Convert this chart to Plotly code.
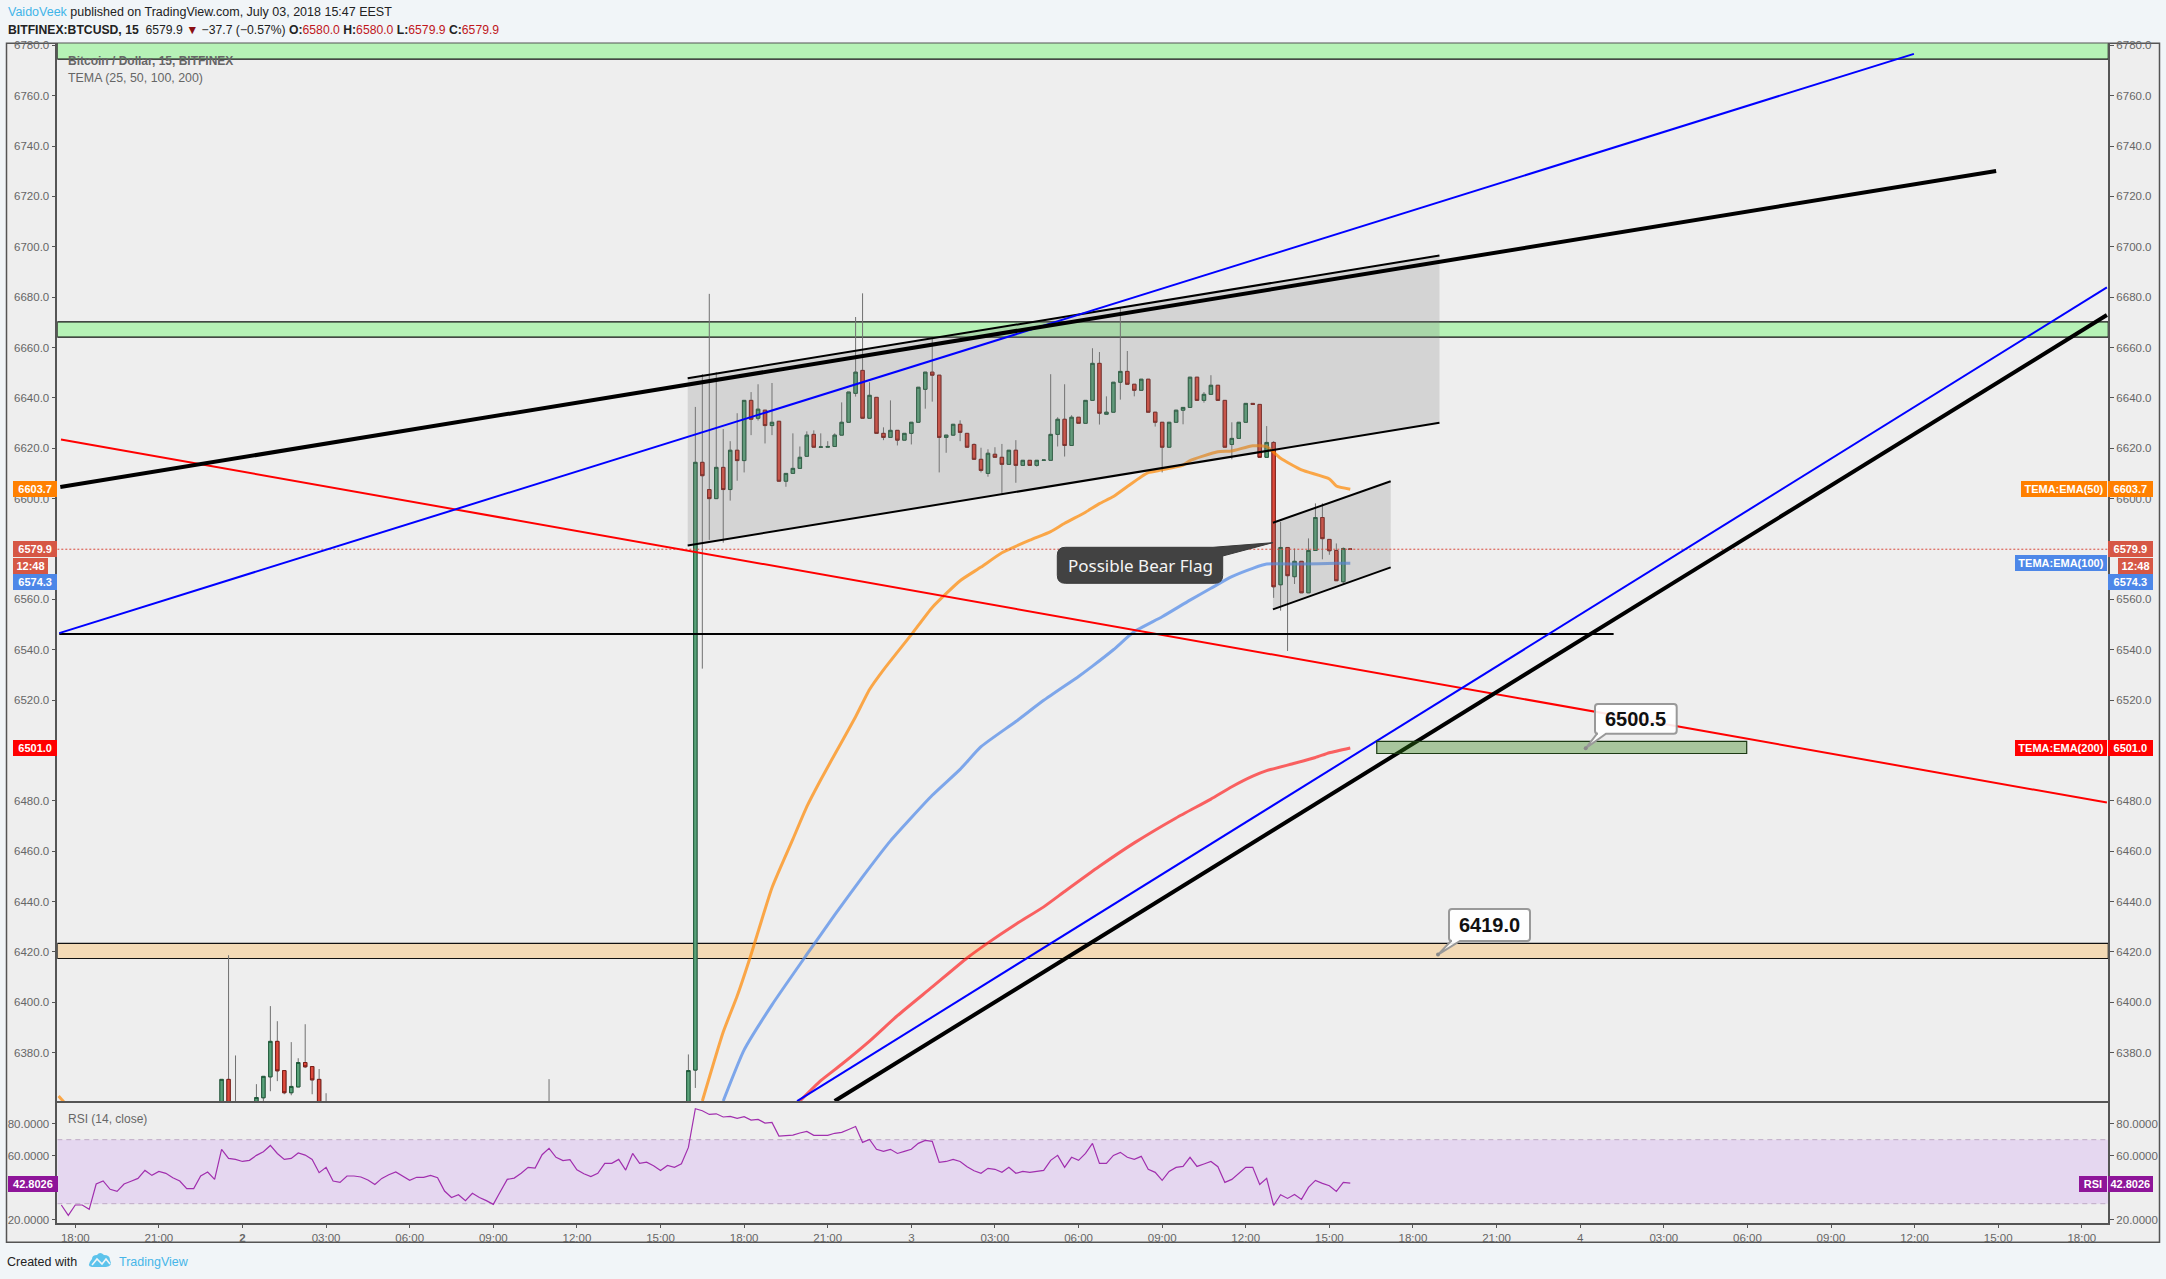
import pandas as pd
import plotly.graph_objects as go

W, H = 2166, 1279
L, R, T, MID, B = 57.3, 2108.3, 43.5, 1101.3, 1223.3
BASE = pd.Timestamp("2018-07-01 18:00")

# ---------- candles (bar number counted in 15 min steps from BASE) ----------
bar_index = [21, 22, 23, 26, 27, 28, 29, 30, 31, 32, 33, 34, 35, 36, 68, 88] + list(range(89, 184))
open_ = [6355, 6369.4, 6352, 6355, 6362.1, 6370.4, 6384.5, 6372.9, 6364.1, 6366.4, 6376.1, 6374.5, 6369.4, 6352, 6352, 6355,
 6373.1, 6614.4, 6603.6, 6600.0, 6612.4, 6603.6, 6619.2, 6615.1, 6639.0, 6631.9, 6635.1, 6629.0, 6630.7, 6606.9, 6610.0, 6612.0,
 6616.8, 6625.5, 6620.4, 6620.4, 6620.7, 6625.2, 6630.3, 6641.8, 6650.9, 6631.9, 6640.2, 6625.9, 6624.3, 6627.1, 6623.2, 6625.9,
 6630.3, 6643.4, 6650.2, 6649.0, 6624.3, 6625.2, 6629.5, 6625.9, 6621.5, 6615.6, 6610.0, 6617.6, 6616.4, 6613.6, 6619.2, 6613.2,
 6615.2, 6613.2, 6615.2, 6615.2, 6625.5, 6631.5, 6621.1, 6632.3, 6629.9, 6639.0, 6653.7, 6633.5, 6634.3, 6646.2, 6650.5, 6645.4,
 6643.0, 6647.4, 6634.3, 6630.3, 6620.4, 6630.3, 6635.1, 6636.2, 6648.2, 6639.0, 6641.4, 6645.0, 6639.0, 6621.5, 6623.9, 6630.3,
 6637.8, 6637.4, 6616.4, 6622.3, 6565.8, 6580.6, 6569.0, 6575.1, 6562.6, 6579.4, 6592.5, 6583.8, 6579.4, 6567.0, 6580.0]
high = [6369.4, 6418.7, 6378.9, 6367.5, 6370.6, 6398.5, 6392.5, 6372.9, 6384.2, 6377.8, 6391.3, 6374.5, 6373.5, 6363.9, 6369.5, 6379.3,
 6636.4, 6649.4, 6681.3, 6650.2, 6627.6, 6622.8, 6633.9, 6639.0, 6642.3, 6645.4, 6635.1, 6645.9, 6630.7, 6610.0, 6625.9, 6620.7,
 6626.7, 6627.1, 6625.9, 6622.8, 6625.9, 6638.2, 6642.3, 6672.1, 6681.5, 6646.2, 6640.2, 6628.3, 6639.0, 6627.1, 6625.9, 6630.3,
 6644.2, 6650.2, 6663.7, 6649.0, 6625.2, 6629.5, 6631.1, 6625.9, 6621.9, 6620.2, 6619.6, 6620.4, 6621.7, 6619.2, 6623.2, 6615.2,
 6615.2, 6615.2, 6615.3, 6649.4, 6632.3, 6645.4, 6633.1, 6632.3, 6639.0, 6659.7, 6658.2, 6640.6, 6646.2, 6675.6, 6658.6, 6645.4,
 6647.4, 6647.4, 6634.3, 6630.3, 6630.3, 6635.1, 6636.2, 6648.2, 6648.2, 6642.3, 6649.0, 6645.0, 6639.0, 6630.3, 6630.3, 6637.8,
 6637.8, 6637.4, 6628.8, 6622.8, 6590.7, 6580.6, 6580.2, 6575.1, 6584.2, 6598.1, 6598.1, 6583.8, 6582.2, 6580.6, 6580.0]
low = [6350, 6350, 6350, 6350, 6355, 6364.7, 6368.7, 6363.5, 6363.1, 6366.4, 6373.9, 6363.5, 6350, 6350, 6350, 6350,
 6366.0, 6532.5, 6583.6, 6600.0, 6582.5, 6599.2, 6607.1, 6610.4, 6625.2, 6631.0, 6621.9, 6625.2, 6606.9, 6604.7, 6610.0, 6612.0,
 6616.8, 6620.4, 6620.4, 6620.4, 6620.7, 6625.2, 6630.3, 6640.5, 6631.9, 6631.9, 6625.9, 6623.2, 6624.3, 6621.1, 6623.2, 6621.5,
 6630.3, 6635.7, 6638.5, 6610.4, 6618.2, 6624.9, 6622.8, 6620.4, 6615.6, 6610.4, 6608.7, 6616.4, 6602.1, 6613.6, 6606.3, 6613.2,
 6613.2, 6612.7, 6615.2, 6615.2, 6620.7, 6616.7, 6621.1, 6629.9, 6629.9, 6639.0, 6629.4, 6633.5, 6634.3, 6639.3, 6645.4, 6640.6,
 6643.0, 6634.3, 6628.6, 6610.4, 6620.4, 6630.3, 6629.5, 6636.2, 6639.0, 6638.1, 6641.4, 6639.0, 6620.4, 6615.6, 6623.9, 6630.3,
 6637.4, 6616.4, 6616.4, 6560.6, 6555.5, 6539.5, 6566.1, 6562.6, 6562.6, 6579.4, 6575.9, 6577.7, 6567.4, 6566.1, 6579.9]
close = [6369.4, 6350, 6352.5, 6362.2, 6370.6, 6384.5, 6372.8, 6364.1, 6366.6, 6376.1, 6374.4, 6369.2, 6350, 6352.5, 6352.5, 6372.9,
 6614.4, 6609.1, 6600.0, 6612.4, 6603.6, 6619.2, 6615.1, 6639.0, 6631.5, 6635.5, 6629.0, 6630.3, 6606.9, 6610.0, 6612.0, 6616.4,
 6625.2, 6620.4, 6620.5, 6620.7, 6625.2, 6630.3, 6642.3, 6650.2, 6631.9, 6641.0, 6625.9, 6624.3, 6627.1, 6623.2, 6625.9, 6630.3,
 6644.2, 6650.2, 6649.0, 6624.3, 6625.2, 6629.5, 6626.3, 6620.4, 6615.6, 6611.2, 6618.0, 6616.4, 6613.6, 6619.2, 6613.2, 6615.2,
 6613.2, 6615.2, 6615.3, 6625.5, 6631.5, 6621.1, 6632.3, 6629.9, 6639.0, 6653.7, 6633.9, 6634.3, 6646.2, 6650.5, 6645.4, 6643.0,
 6647.4, 6634.3, 6630.3, 6620.4, 6630.3, 6635.1, 6636.2, 6648.2, 6639.0, 6641.4, 6645.0, 6639.0, 6620.4, 6623.9, 6630.3, 6637.8,
 6637.4, 6616.4, 6622.3, 6565.0, 6580.6, 6569.4, 6575.1, 6562.6, 6579.4, 6592.5, 6584.1, 6579.3, 6567.4, 6580.2, 6579.9]

# ---------- moving averages ----------
ema50_early_idx = [-2.4, -1.4]
ema50_early_val = [6362.8, 6359.7]
ema50_idx = [90, 93, 95, 97, 100, 103, 105, 107, 110, 112, 114, 116, 120, 123, 127, 130, 133, 137, 140, 142, 145, 147, 149, 151, 153, 154, 156, 159, 160, 164, 166, 169, 171, 173, 176, 180, 181, 183]
ema50_val = [6360.8, 6388.2, 6402.5, 6419.0, 6445.5, 6464.8, 6477.7, 6488.4, 6503.4, 6513.4, 6524.2, 6532.0, 6546.0, 6556.8, 6567.4, 6572.8, 6578.5, 6583.5, 6586.9, 6590.2, 6594.6, 6598.0, 6600.8, 6604.8, 6608.7, 6610.3, 6611.4, 6613.3, 6615.1, 6618.6, 6618.9, 6621.0, 6620.6, 6616.0, 6611.4, 6607.8, 6605.0, 6603.7]
ema100_idx = [93, 96, 100, 105, 109, 113, 117, 123, 127, 130, 135, 139, 144, 146, 149, 152, 156, 160, 163, 166, 169, 171, 176, 181, 183]
ema100_val = [6360.8, 6381.1, 6399.0, 6419.0, 6434.7, 6449.8, 6464.1, 6482.2, 6492.5, 6501.5, 6511.5, 6519.9, 6529.4, 6533.5, 6540.0, 6547.2, 6553.1, 6559.7, 6564.4, 6569.0, 6572.3, 6574.0, 6574.0, 6574.3, 6574.3]
ema200_idx = [104, 107, 110, 114, 118, 123, 128, 131, 135, 139, 142, 147, 152, 158, 163, 166, 169, 171, 175, 178, 180, 183]
ema200_val = [6360.8, 6368.9, 6375.4, 6384.6, 6394.7, 6406.1, 6417.6, 6423.6, 6431.0, 6437.9, 6444.0, 6454.0, 6463.3, 6473.2, 6480.7, 6485.6, 6489.8, 6492.0, 6494.9, 6497.2, 6499.1, 6501.0]

# ---------- RSI, one value per bar from bar -2 ----------
rsi_first_bar = -2
rsi = [29.2, 22.7, 29.2, 29.2, 26.5, 42.3, 44.2, 39.0, 37.7, 42.3, 44.0, 45.8, 50.8, 47.7, 50.2, 49.0, 46.2, 44.2, 39.4, 39.4,
 47.3, 49.8, 45.2, 64.0, 58.3, 57.7, 56.4, 57.1, 60.2, 62.5, 66.4, 61.4, 57.7, 58.3, 61.7, 60.4, 57.7, 49.4, 52.7, 44.2,
 43.3, 47.3, 47.3, 46.7, 44.8, 42.0, 45.8, 48.1, 49.8, 47.1, 44.6, 46.5, 46.5, 47.7, 46.2, 37.9, 33.9, 35.6, 31.9, 36.5,
 33.9, 31.9, 29.6, 37.5, 45.2, 46.0, 49.0, 52.7, 52.3, 60.6, 64.6, 59.0, 56.9, 57.5, 51.2, 48.7, 46.9, 49.0, 55.2, 55.2,
 57.7, 51.0, 61.4, 55.2, 56.0, 53.7, 50.8, 53.9, 52.7, 55.0, 65.2, 89.4,
 88.1, 85.8, 86.2, 84.2, 84.6, 83.3, 84.4, 82.3, 82.7, 80.4, 80.8, 72.3, 72.7, 72.9, 74.2, 75.2, 72.7, 72.7, 72.7, 74.0,
 74.6, 76.4, 78.3, 68.3, 70.2, 64.0, 62.7, 64.0, 61.4, 62.7, 64.0, 67.7, 69.6, 69.0, 55.8, 56.4, 57.7, 56.4, 53.1, 50.6,
 49.0, 52.1, 51.5, 49.6, 52.7, 49.0, 50.2, 49.6, 50.2, 50.8, 57.1, 60.2, 52.7, 59.0, 57.1, 61.4, 67.7, 55.2, 55.2, 60.2,
 62.1, 59.0, 57.7, 59.6, 51.5, 49.6, 44.6, 50.2, 52.7, 53.3, 59.0, 53.3, 54.8, 56.4, 53.1, 43.3, 45.2, 49.0, 52.7, 52.7,
 42.0, 45.8, 28.9, 35.6, 33.3, 35.8, 32.7, 40.2, 44.6, 42.7, 41.2, 37.7, 43.3, 42.8]

# ---------- drawn lines: bar numbers and prices ----------
thick_up_idx, thick_up_val = [-2.15, 275.7], [6604.6, 6730.1]
blue_up_idx, blue_up_val = [-2.3, 263.9], [6546.6, 6776.6]
flat_idx, flat_val = [-2.3, 220.8], [6546.2, 6546.2]
red_down_idx, red_down_val = [-2.05, 291.6], [6623.5, 6479.3]
thick_low_idx, thick_low_val = [109, 291.6], [6360.8, 6672.9]
blue_low_idx, blue_low_val = [103.6, 291.6], [6360.8, 6683.9]
chan_idx = [87.9, 195.8]
chan_top, chan_bot = [6647.8, 6696.5], [6581.4, 6630.1]
flag_idx = [171.9, 188.8]
flag_top, flag_bot = [6590.4, 6606.9], [6556.0, 6572.7]
last_price = 6579.9

# bands: lower price, upper price
band_top = (6774.5, 6795)
band_mid = (6664.1, 6670.2)
band_low = (6417.4, 6423.4)
box_target = (6498.8, 6503.6)
box_target_idx = (186.8, 239.9)

# ---------- axis ticks ----------
price_ticks = list(range(6380, 6781, 20))
rsi_ticks = [20, 60, 80]
time_tick_hours = list(range(0, 73, 3))
time_tick_text = ["18:00", "21:00", "<b>2</b>", "03:00", "06:00", "09:00", "12:00", "15:00", "18:00", "21:00", "3", "03:00", "06:00",
                  "09:00", "12:00", "15:00", "18:00", "21:00", "4", "03:00", "06:00", "09:00", "12:00", "15:00", "18:00"]


def t(i):
    return BASE + pd.Timedelta(minutes=15 * float(i))


def ts(seq):
    return [t(i) for i in seq]


def px(v):
    return v / W


def py(v):
    return 1 - v / H


fig = go.Figure()
FONT = "Liberation Sans, Arial, sans-serif"
GREEN, GREEN_E = "#5aa27a", "#1f5a3a"
RED, RED_E = "#dd4a3c", "#7d1c16"
x_all = ts(bar_index)

# candle wicks, then bodies
fig.add_trace(go.Candlestick(x=x_all, open=open_, high=high, low=low, close=close, whiskerwidth=0,
                             increasing=dict(line=dict(color="#707070", width=1), fillcolor="rgba(0,0,0,0)"),
                             decreasing=dict(line=dict(color="#707070", width=1), fillcolor="rgba(0,0,0,0)"),
                             hoverinfo="skip", showlegend=False))
body_hi = [max(a, b) for a, b in zip(open_, close)]
body_lo = [min(a, b) for a, b in zip(open_, close)]
fig.add_trace(go.Candlestick(x=x_all, open=open_, high=body_hi, low=body_lo, close=close, whiskerwidth=0,
                             increasing=dict(line=dict(color=GREEN_E, width=1), fillcolor=GREEN),
                             decreasing=dict(line=dict(color=RED_E, width=1), fillcolor=RED),
                             hoverinfo="skip", showlegend=False))


def line(idx, val, color, width, dash=None, shape="linear", **kw):
    ln = dict(color=color, width=width, dash=dash, shape=shape)
    if shape == "spline":
        ln["smoothing"] = 0.5
    fig.add_trace(go.Scatter(x=ts(idx), y=val, mode="lines", line=ln, hoverinfo="skip", showlegend=False, **kw))


# moving averages
line(ema50_early_idx, ema50_early_val, "rgba(255,135,0,0.7)", 3)
line(ema50_idx, ema50_val, "rgba(255,135,0,0.7)", 3, shape="spline")
line(ema100_idx, ema100_val, "rgba(77,135,232,0.7)", 3, shape="spline")
line(ema200_idx, ema200_val, "rgba(255,20,20,0.65)", 3, shape="spline")

# shaded channels
for ix, top, bot in [(chan_idx, chan_top, chan_bot), (flag_idx, flag_top, flag_bot)]:
    fig.add_trace(go.Scatter(x=ts(ix + ix[::-1]), y=top + bot[::-1], mode="lines", fill="toself",
                             fillcolor="rgba(128,128,128,0.236)", line=dict(width=0), hoverinfo="skip", showlegend=False))
    line(ix, top, "#000000", 2)
    line(ix, bot, "#000000", 2)

# trend lines
line([-2.58, 291.8], [last_price, last_price], "#d9483b", 1, dash="2px,2px")
line(red_down_idx, red_down_val, "#ff0000", 2)
line(flat_idx, flat_val, "#000000", 2)
line(blue_up_idx, blue_up_val, "#0000ff", 2)
line(blue_low_idx, blue_low_val, "#0000ff", 2)
line(thick_up_idx, thick_up_val, "#000000", 4)
line(thick_low_idx, thick_low_val, "#000000", 4)

# RSI
rx = [t(rsi_first_bar + i) for i in range(len(rsi))]
xr0, xr1 = t(-2.58), t(291.8)
fig.add_trace(go.Scatter(x=[xr0, xr1, xr1, xr0], y=[70, 70, 30, 30], mode="lines", fill="toself", fillcolor="#e5d7f0",
                         line=dict(width=0), xaxis="x2", yaxis="y2", hoverinfo="skip", showlegend=False))
for lvl in (70, 30):
    fig.add_trace(go.Scatter(x=[xr0, xr1], y=[lvl, lvl], mode="lines", line=dict(color="#bda9c6", width=1, dash="5px,4px"),
                             xaxis="x2", yaxis="y2", hoverinfo="skip", showlegend=False))
fig.add_trace(go.Scatter(x=rx, y=rsi, mode="lines", line=dict(color="#a12fae", width=1.2), xaxis="x2", yaxis="y2",
                         hoverinfo="skip", showlegend=False))

# carriers for the right hand axes
fig.add_trace(go.Scatter(x=[xr0], y=[6500], mode="lines", xaxis="x", yaxis="y3", hoverinfo="skip", showlegend=False))
fig.add_trace(go.Scatter(x=[xr0], y=[50], mode="lines", xaxis="x2", yaxis="y4", hoverinfo="skip", showlegend=False))

# ---------- shapes ----------
shapes = [dict(type="rect", xref="paper", yref="paper", x0=px(6.5), x1=px(2159.5), y0=py(1242.3), y1=py(43.3),
               line=dict(color="#555555", width=1.5), fillcolor="#eeeeee", layer="below")]
for (lo, hi), fc in [(band_top, "#b6f2b6"), (band_mid, "#b6f2b6"), (band_low, "#f3dab6")]:
    shapes.append(dict(type="rect", xref="x", yref="y", x0=xr0, x1=xr1, y0=lo, y1=hi, fillcolor=fc,
                       line=dict(color="#111111", width=1.2), layer="below"))
shapes.append(dict(type="rect", xref="x", yref="y", x0=t(box_target_idx[0]), x1=t(box_target_idx[1]), y0=box_target[0],
                   y1=box_target[1], fillcolor="rgba(50,130,20,0.37)", line=dict(color="#1c3a14", width=1.2), layer="above"))


def bubble(x0, y0, x1, y1, r, pointer, fill, edge, ew):
    """Rounded box with a pointer; every coordinate is a page pixel."""
    p = lambda a, b: f"{px(a):.6f},{py(b):.6f}"
    seg = [f"M{p(x0 + r, y0)}"]
    if pointer["side"] == "top":
        seg += [f"L{p(pointer['a'], y0)}", f"L{p(*pointer['tip'])}", f"L{p(x1, pointer['b'])}"]
        seg += [f"L{p(x1, y1 - r)}", f"Q{p(x1, y1)} {p(x1 - r, y1)}"]
        seg += [f"L{p(x0 + r, y1)}", f"Q{p(x0, y1)} {p(x0, y1 - r)}"]
    else:
        seg += [f"L{p(x1 - r, y0)}", f"Q{p(x1, y0)} {p(x1, y0 + r)}", f"L{p(x1, y1 - r)}", f"Q{p(x1, y1)} {p(x1 - r, y1)}"]
        seg += [f"L{p(pointer['b'], y1)}", f"L{p(*pointer['tip'])}", f"L{p(pointer['a'], y1)}", f"L{p(x0 + r, y1)}",
                f"Q{p(x0, y1)} {p(x0, y1 - r)}"]
    seg += [f"L{p(x0, y0 + r)}", f"Q{p(x0, y0)} {p(x0 + r, y0)}", "Z"]
    shapes.append(dict(type="path", xref="paper", yref="paper", path=" ".join(seg), fillcolor=fill,
                       line=dict(color=edge, width=ew), layer="above"))


def dot(cx, cy, rad, color):
    shapes.append(dict(type="circle", xref="paper", yref="paper", x0=px(cx - rad), x1=px(cx + rad), y0=py(cy + rad), y1=py(cy - rad),
                       fillcolor=color, line=dict(width=0), layer="above"))


bubble(1057.3, 547.3, 1222.7, 583.3, 8, dict(side="top", a=1213, b=556, tip=(1272.7, 542.7)), "#424242", "#3a3a3a", 1)
bubble(1595, 704, 1676.7, 733.7, 3, dict(side="bottom", a=1597, b=1606, tip=(1585.7, 748.3)), "rgba(255,255,255,0.9)", "#999999", 2)
dot(1585.7, 748.3, 2, "#8a8a8a")
bubble(1449, 909, 1530, 941, 3, dict(side="bottom", a=1451, b=1460, tip=(1438, 954.6)), "rgba(255,255,255,0.9)", "#999999", 2)
dot(1438, 954.6, 2, "#8a8a8a")

# TradingView logo
logo = ("M{0},{1} Q{2},{3} {4},{5} Q{6},{7} {8},{9} Q{10},{11} {12},{13} Q{14},{15} {16},{17} L{18},{19} Q{20},{21} {0},{1} Z").format(
    *[f"{px(v):.6f}" if i % 2 == 0 else f"{py(v):.6f}" for i, v in enumerate(
        [92, 1259, 92, 1255, 97, 1255, 100, 1251, 104, 1255, 110, 1255, 110, 1260, 113, 1266, 106, 1267, 92, 1267, 86, 1266])])
shapes.append(dict(type="path", xref="paper", yref="paper", path=logo, fillcolor="#5cc3ec", line=dict(width=0), layer="above"))
shapes.append(dict(type="path", xref="paper", yref="paper",
                   path=f"M{px(92):.6f},{py(1265):.6f} L{px(97):.6f},{py(1259):.6f} L{px(102):.6f},{py(1264):.6f} L{px(106):.6f},{py(1259):.6f} L{px(110):.6f},{py(1264):.6f}",
                   line=dict(color="#f1f5f8", width=1.6), layer="above"))

# ---------- texts ----------
ann = []


def text(x, yc, s, size=12, color="#333333", anchor="left", font=FONT):
    ann.append(dict(xref="paper", yref="paper", x=px(x), y=py(yc), xanchor=anchor, yanchor="middle", text=s, showarrow=False,
                    font=dict(size=size, color=color, family=font), borderpad=0))


def tag(x0, y0, x1, y1, s, bg):
    ann.append(dict(xref="paper", yref="paper", x=px(x0), y=py(y0), xanchor="left", yanchor="top", width=x1 - x0, height=y1 - y0,
                    text=f"<b>{s}</b>", showarrow=False, bgcolor=bg, borderpad=0, borderwidth=0, align="center", valign="middle",
                    font=dict(size=11, color="#ffffff", family=FONT)))


DR = "#c0171c"
text(6.5, 11.7, '<span style="color:#3fb4e8">VaidoVeek</span> published on TradingView.com, July 03, 2018 15:47 EEST', 12.5, "#222222")
text(6.5, 30, f'<b>BITFINEX:BTCUSD, 15</b>  6579.9 <span style="color:#8b0f12">▼</span> −37.7 (−0.57%) <b>O:</b><span style="color:{DR}">6580.0</span> '
     f'<b>H:</b><span style="color:{DR}">6580.0</span> <b>L:</b><span style="color:{DR}">6579.9</span> <b>C:</b><span style="color:{DR}">6579.9</span>',
     12.2, "#222222")
text(66.5, 61, "<b>Bitcoin / Dollar, 15, BITFINEX</b>", 12, "#666666")
text(66.5, 77.7, "TEMA (25, 50, 100, 200)", 12.4, "#666666")
text(67, 1119, "RSI (14, close)", 12, "#666666")
text(6.3, 1261.7, "Created with", 12.5, "#222222")
text(118, 1261.7, "TradingView", 12.5, "#46b5e8")

text(1140, 565.5, "Possible Bear Flag", 17, "#f4f4f4", "center", "Noto Sans, sans-serif")
text(1635.8, 719, "<b>6500.5</b>", 20, "#111111", "center")
text(1489.5, 925, "<b>6419.0</b>", 20, "#111111", "center")

for x0, x1 in [(13, 57.3), (2108.3, 2153)]:
    tag(x0, 481, x1, 496.7, "6603.7", "#ff8000")
    tag(x0, 541, x1, 557, "6579.9", "#d65745")
    tag(x0, 574, x1, 590, "6574.3", "#4d87e8")
    tag(x0, 740, x1, 756, "6501.0", "#ff0000")
tag(13, 558, 48, 573.7, "12:48", "#d65745")
tag(2118, 558, 2153, 573.7, "12:48", "#d65745")
tag(2021, 481, 2107, 496.7, "TEMA:EMA(50)", "#ff8000")
tag(2015, 555, 2107, 571, "TEMA:EMA(100)", "#4d87e8")
tag(2015, 740, 2107, 756, "TEMA:EMA(200)", "#ff0000")
tag(7.5, 1176, 57.3, 1192, "42.8026", "#8e1599")
tag(2108.3, 1176, 2153, 1192, "42.8026", "#8e1599")
tag(2079, 1176, 2107, 1192, "RSI", "#8e1599")

# ---------- axes ----------
tf = dict(size=11.5, color="#666666", family=FONT)
common_y = dict(showgrid=False, zeroline=False, ticks="outside", ticklen=4, tickcolor="#555555", tickfont=tf, fixedrange=True)
y_range = [6360.7, 6780.7]
rsi_range = [17.75, 94]
dom_price = [py(MID), py(T)]
dom_rsi = [py(B), py(MID)]
dom_x = [px(L), px(R)]

fig.update_layout(
    width=W, height=H, autosize=False, margin=dict(l=0, r=0, t=0, b=0, autoexpand=False),
    paper_bgcolor="#f1f5f8", plot_bgcolor="#eeeeee", showlegend=False, hovermode=False,
    shapes=shapes, annotations=ann, boxgap=0.3, font=dict(family=FONT),
    xaxis=dict(domain=dom_x, range=[xr0, xr1], anchor="y", type="date", showgrid=False, zeroline=False, rangeslider=dict(visible=False),
               showticklabels=False, ticks="", showline=True, linecolor="#555555", linewidth=1.5),
    xaxis2=dict(domain=dom_x, range=[xr0, xr1], anchor="y2", type="date", matches="x", showgrid=False, zeroline=False,
                tickmode="array", tickvals=[BASE + pd.Timedelta(hours=h) for h in time_tick_hours], ticktext=time_tick_text,
                tickangle=0, ticks="outside", ticklen=3, tickcolor="#555555", tickfont=tf, showline=True, linecolor="#555555", linewidth=1.5),
    yaxis=dict(domain=dom_price, range=y_range, anchor="x", tickmode="array", tickvals=price_ticks, tickformat=".1f",
               showline=True, linecolor="#555555", linewidth=1.5, **common_y),
    yaxis3=dict(range=y_range, overlaying="y", side="right", anchor="x", tickmode="array", tickvals=price_ticks, tickformat=".1f",
                showline=True, linecolor="#555555", linewidth=1.5, **common_y),
    yaxis2=dict(domain=dom_rsi, range=rsi_range, anchor="x2", tickmode="array", tickvals=rsi_ticks, tickformat=".4f",
                showline=True, linecolor="#555555", linewidth=1.5, **common_y),
    yaxis4=dict(range=rsi_range, overlaying="y2", side="right", anchor="x2", tickmode="array", tickvals=rsi_ticks, tickformat=".4f",
                showline=True, linecolor="#555555", linewidth=1.5, **common_y),
)

fig.write_html("out.html", post_script="document.body.style.margin='0';document.body.style.background='#f1f5f8';",
               config=dict(displayModeBar=False))
